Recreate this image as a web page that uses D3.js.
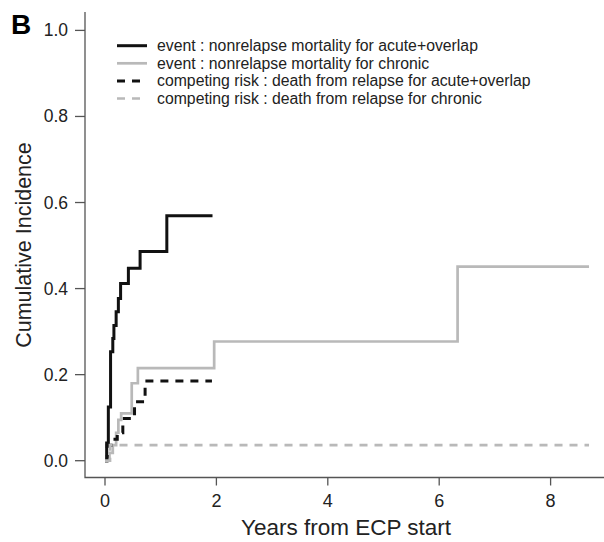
<!DOCTYPE html>
<html>
<head>
<meta charset="utf-8">
<script src="https://cdn.jsdelivr.net/npm/d3@7"></script>
<style>
  body { margin: 0; background: #fff; }
  svg { font-family: "Liberation Sans", Arial, sans-serif; }
</style>
</head>
<body>
<div id="grafico"></div>
<script>
// tempos (anos) e incidencia acumulada de cada curva
const tempoAgudoNRM = [0, 0.03, 0.06, 0.10, 0.14, 0.16, 0.20, 0.24, 0.28, 0.42, 0.63, 1.11, 1.93];
const ciAgudoNRM    = [0, 0.041, 0.125, 0.253, 0.284, 0.314, 0.346, 0.377, 0.412, 0.447, 0.486, 0.569, 0.569];

const tempoCronicoNRM = [0, 0.08, 0.14, 0.20, 0.24, 0.29, 0.48, 0.59, 1.96, 6.33, 8.69];
const ciCronicoNRM    = [0, 0.018, 0.036, 0.065, 0.095, 0.11, 0.18, 0.215, 0.277, 0.451, 0.451];

const tempoAgudoRecaida = [0, 0.04, 0.14, 0.22, 0.32, 0.53, 0.72, 1.92];
const ciAgudoRecaida    = [0, 0.036, 0.05, 0.065, 0.098, 0.137, 0.185, 0.185];

const tempoCronicoRecaida = [0, 0.09, 8.69];
const ciCronicoRecaida    = [0, 0.036, 0.036];

const legendas = [
  "event : nonrelapse mortality for acute+overlap",
  "event : nonrelapse mortality for chronic",
  "competing risk : death from relapse for acute+overlap",
  "competing risk : death from relapse for chronic"
];
const ticksX = [0, 2, 4, 6, 8];
const ticksY = [0, 0.2, 0.4, 0.6, 0.8, 1.0];

const largura = 604, altura = 542;
const cinza = "#b9b9b9";

const series = [
  { t: tempoAgudoNRM, v: ciAgudoNRM, cor: "#111", larg: 3, dash: null },
  { t: tempoCronicoNRM, v: ciCronicoNRM, cor: cinza, larg: 2.7, dash: null },
  { t: tempoAgudoRecaida, v: ciAgudoRecaida, cor: "#111", larg: 3, dash: "8,7" },
  { t: tempoCronicoRecaida, v: ciCronicoRecaida, cor: cinza, larg: 2.7, dash: "8,7" }
];

const svg = d3.select("#grafico").append("svg")
  .attr("width", largura)
  .attr("height", altura);

const x = d3.scaleLinear().domain([0, 8]).range([105, 550.6]);
const y = d3.scaleLinear().domain([0, 1]).range([460.7, 30.4]);

const esq = 85, baixo = 477.5, topo = 12;

// caixa em L
svg.append("path")
  .attr("d", `M${esq},${topo}V${baixo}H${largura}`)
  .attr("fill", "none")
  .attr("stroke", "#555")
  .attr("stroke-width", 1.3);

// eixo y
svg.selectAll(".tick-y").data(ticksY).enter().append("line")
  .attr("x1", esq - 10).attr("x2", esq)
  .attr("y1", d => y(d)).attr("y2", d => y(d))
  .attr("stroke", "#555").attr("stroke-width", 1.3);

svg.selectAll(".label-y").data(ticksY).enter().append("text")
  .attr("x", 68).attr("y", d => y(d) + 6)
  .attr("text-anchor", "end")
  .attr("fill", "#222")
  .style("font-size", "17.5px")
  .text(d => d.toFixed(1));

// eixo x
svg.selectAll(".tick-x").data(ticksX).enter().append("line")
  .attr("x1", d => x(d)).attr("x2", d => x(d))
  .attr("y1", baixo).attr("y2", baixo + 8)
  .attr("stroke", "#555").attr("stroke-width", 1.3);

svg.selectAll(".label-x").data(ticksX).enter().append("text")
  .attr("x", d => x(d)).attr("y", 507)
  .attr("text-anchor", "middle")
  .attr("fill", "#222")
  .style("font-size", "18px")
  .text(d => d);

// titulos
svg.append("text")
  .attr("x", 346).attr("y", 535)
  .attr("text-anchor", "middle")
  .attr("fill", "#222")
  .style("font-size", "22.5px")
  .text("Years from ECP start");

svg.append("text")
  .attr("transform", "translate(31,245) rotate(-90)")
  .attr("text-anchor", "middle")
  .attr("fill", "#222")
  .style("font-size", "21.5px")
  .text("Cumulative Incidence");

svg.append("text")
  .attr("x", 11).attr("y", 34)
  .attr("fill", "#000")
  .style("font-size", "28px")
  .style("font-weight", "bold")
  .text("B");

// curvas em degrau
const linha = d3.line()
  .x(d => x(d[0]))
  .y(d => y(d[1]))
  .curve(d3.curveStepAfter);

svg.selectAll(".curva").data(series).enter().append("path")
  .attr("d", s => linha(s.t.map((t, i) => [t, s.v[i]])))
  .attr("fill", "none")
  .attr("stroke", s => s.cor)
  .attr("stroke-width", s => s.larg)
  .attr("stroke-dasharray", s => s.dash);

// legenda
const leg = svg.selectAll(".leg").data(series).enter().append("g")
  .attr("transform", (d, i) => `translate(0,${45.7 + i * 17.6})`);

leg.append("line")
  .attr("x1", 117).attr("x2", 147)
  .attr("stroke", d => d.cor)
  .attr("stroke-width", d => d.larg)
  .attr("stroke-dasharray", d => d.dash);

leg.append("text")
  .attr("x", 157).attr("y", 5.5)
  .attr("fill", "#222")
  .style("font-size", "15.8px")
  .text((d, i) => legendas[i]);
</script>
</body>
</html>
